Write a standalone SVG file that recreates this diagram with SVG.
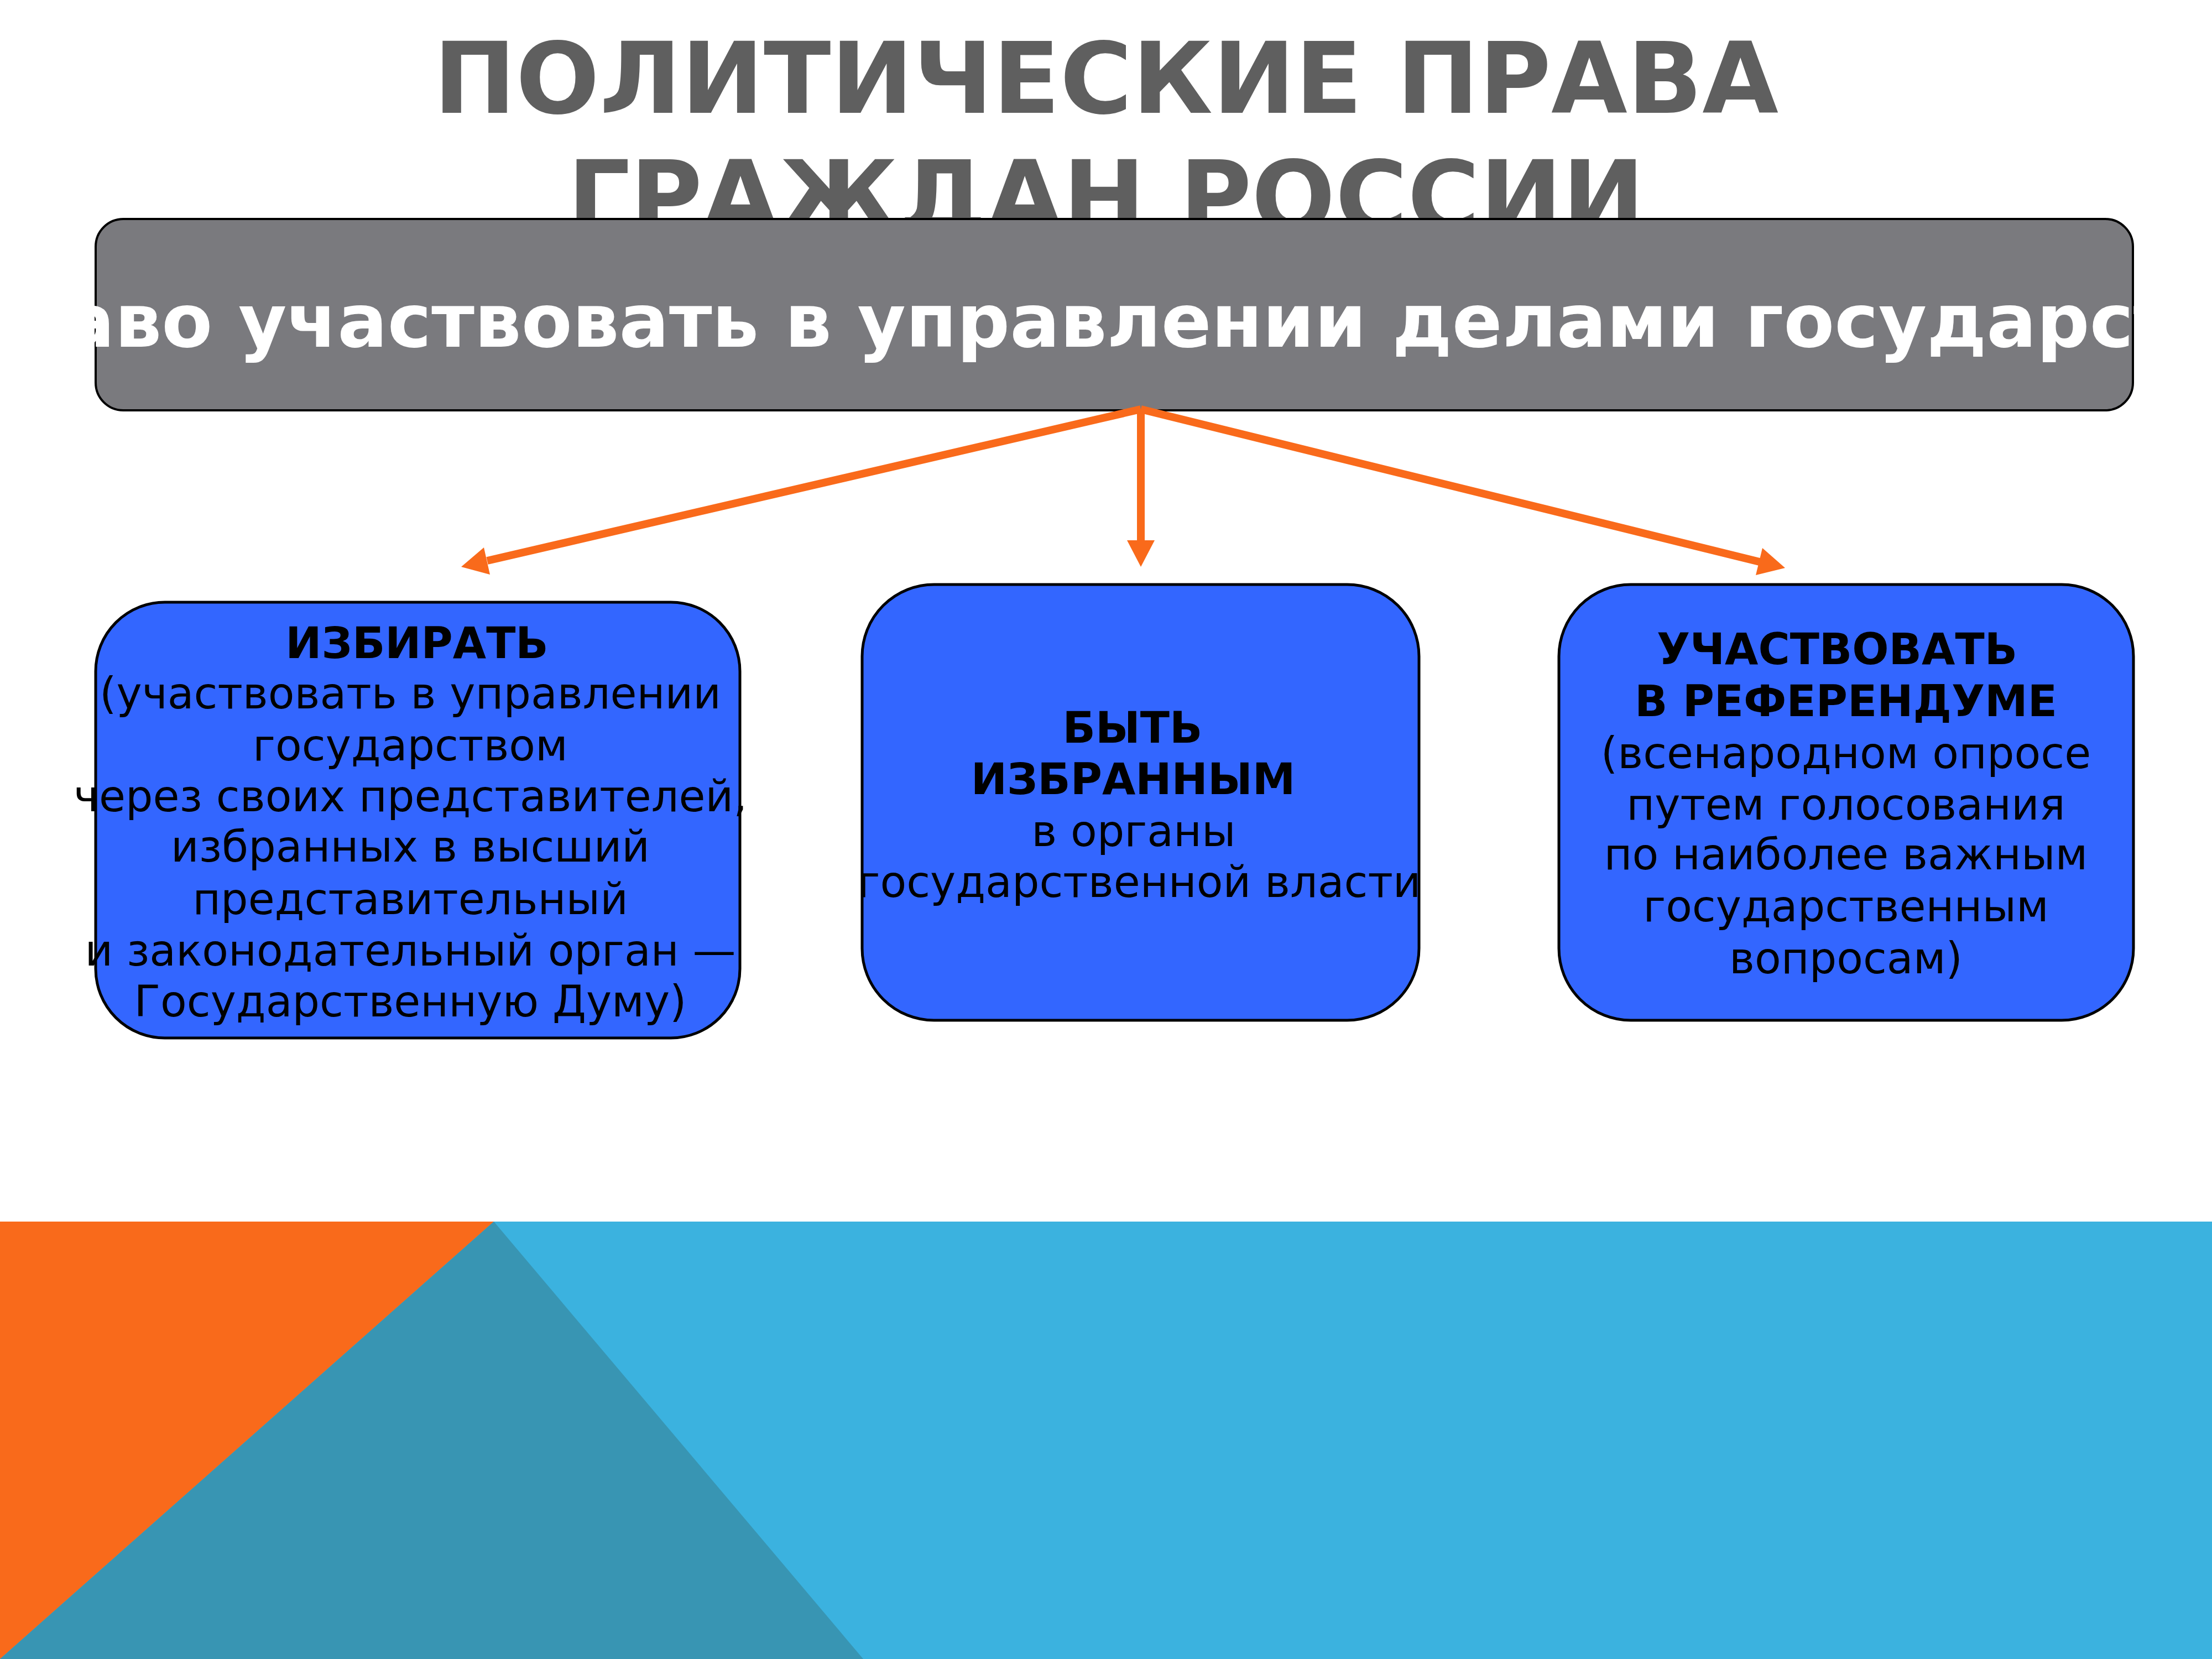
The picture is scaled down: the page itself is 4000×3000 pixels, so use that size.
<svg xmlns="http://www.w3.org/2000/svg" width="4000" height="3000" viewBox="0 0 4000 3000">
<defs>
<style>
.title{font-family:"DejaVu Sans",sans-serif;font-weight:bold;font-size:178px;fill:#5f5f5f;text-anchor:middle}
.main{font-family:"DejaVu Sans",sans-serif;font-weight:bold;font-size:134px;fill:#ffffff;text-anchor:middle}
.box{fill:#3366ff;stroke:#000;stroke-width:5}
.t{font-family:"DejaVu Sans",sans-serif;font-size:78px;fill:#000;text-anchor:middle}
.b{font-weight:bold}
.arr{stroke:#f96a1b;stroke-width:14;fill:none;stroke-linecap:butt}
.head{fill:#f96a1b}
</style>
</defs>
<rect width="4000" height="3000" fill="#ffffff"/>
<g id="background">
<rect x="0" y="2209" width="4000" height="791" fill="#3bb2df"/>
<polygon points="0,2209 893,2209 0,3000" fill="#f96a1b"/>
<polygon points="893,2209 0,3000 1561,3000" fill="#3895b3"/>
</g>
<g id="title">
<text class="title" x="2000" y="204">ПОЛИТИЧЕСКИЕ ПРАВА</text>
<text class="title" x="2000" y="418">ГРАЖДАН РОССИИ</text>
</g>
<g id="node-main">
<rect x="173" y="396" width="3684" height="346" rx="50" ry="50" fill="#7a7a7e" stroke="#000" stroke-width="4"/>
<text class="main" x="2010" y="627">Право участвовать в управлении делами государства</text>
</g>
<g id="connectors">
<line class="arr" x1="2063" y1="740" x2="881" y2="1014"/>
<polygon class="head" points="834,1025 886,1039 875,990"/>
<line class="arr" x1="2063" y1="740" x2="2063" y2="978"/>
<polygon class="head" points="2038,977 2088,977 2063,1025"/>
<line class="arr" x1="2063" y1="740" x2="3182" y2="1016"/>
<polygon class="head" points="3228,1027 3175,1040 3187,991"/>
</g>
<g id="node-elect">
<rect class="box" x="173" y="1089" width="1165" height="788" rx="125" ry="125"/>
<text class="t b" x="754" y="1190">ИЗБИРАТЬ</text>
<text class="t" x="742" y="1281">(участвовать в управлении</text>
<text class="t" x="742" y="1375">государством</text>
<text class="t" x="742" y="1467">через своих представителей,</text>
<text class="t" x="742" y="1558">избранных в высший</text>
<text class="t" x="742" y="1653">представительный</text>
<text class="t" x="742" y="1746">и законодательный орган —</text>
<text class="t" x="742" y="1838">Государственную Думу)</text>
</g>
<g id="node-elected">
<rect class="box" x="1559" y="1057" width="1007" height="788" rx="130" ry="130"/>
<text class="t b" x="2048" y="1343">БЫТЬ</text>
<text class="t b" x="2049" y="1436">ИЗБРАННЫМ</text>
<text class="t" x="2050" y="1530">в органы</text>
<text class="t" x="2060" y="1622">государственной власти</text>
</g>
<g id="node-referendum">
<rect class="box" x="2819" y="1057" width="1039" height="788" rx="130" ry="130"/>
<text class="t b" x="3322" y="1201">УЧАСТВОВАТЬ</text>
<text class="t b" x="3338" y="1295">В РЕФЕРЕНДУМЕ</text>
<text class="t" x="3338" y="1389">(всенародном опросе</text>
<text class="t" x="3338" y="1482">путем голосования</text>
<text class="t" x="3338" y="1572">по наиболее важным</text>
<text class="t" x="3338" y="1666">государственным</text>
<text class="t" x="3338" y="1760">вопросам)</text>
</g>
</svg>
